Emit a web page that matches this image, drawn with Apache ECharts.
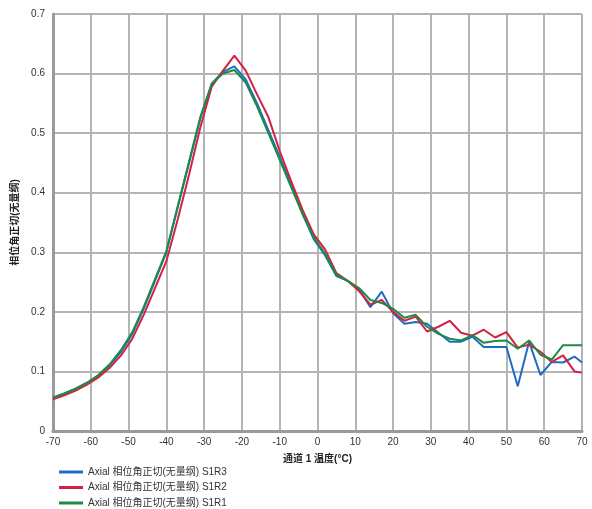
<!DOCTYPE html>
<html>
<head>
<meta charset="utf-8">
<script src="https://cdn.jsdelivr.net/npm/echarts@6/dist/echarts.min.js"></script>
<style>
html,body{margin:0;padding:0;background:#fff;}
#chart{width:592px;height:509px;}
</style>
</head>
<body>
<div id="chart"></div>
<script>
var temps = [-70,-67,-64,-61,-58,-55,-52,-49,-46,-43,-40,-37,-34,-31,-28,-25,-22,-19,-16,-13,-10,-7,-4,-1,2,5,8,11,14,17,20,23,26,29,32,35,38,41,44,47,50,53,56,59,62,65,68,70];
var s1r3 = [0.056,0.063,0.071,0.081,0.093,0.110,0.133,0.163,0.205,0.252,0.300,0.375,0.450,0.525,0.583,0.603,0.612,0.590,0.550,0.505,0.460,0.413,0.365,0.322,0.295,0.260,0.252,0.238,0.208,0.234,0.198,0.180,0.183,0.180,0.165,0.150,0.150,0.158,0.141,0.141,0.141,0.075,0.150,0.094,0.116,0.115,0.125,0.115];
var s1r2 = [0.053,0.060,0.068,0.078,0.090,0.106,0.127,0.155,0.195,0.240,0.285,0.355,0.430,0.510,0.578,0.605,0.630,0.605,0.565,0.527,0.470,0.420,0.372,0.330,0.305,0.265,0.252,0.235,0.212,0.220,0.200,0.185,0.192,0.167,0.175,0.185,0.165,0.160,0.170,0.157,0.166,0.140,0.145,0.133,0.116,0.127,0.100,0.098];
var s1r1 = [0.056,0.063,0.071,0.081,0.094,0.112,0.136,0.166,0.208,0.255,0.302,0.377,0.452,0.527,0.583,0.600,0.606,0.585,0.545,0.500,0.455,0.410,0.365,0.325,0.298,0.262,0.252,0.240,0.220,0.215,0.205,0.190,0.195,0.175,0.163,0.155,0.152,0.161,0.148,0.151,0.152,0.138,0.152,0.128,0.120,0.144,0.144,0.144];
var seriesNames = ['Axial 相位角正切(无量纲) S1R3','Axial 相位角正切(无量纲) S1R2','Axial 相位角正切(无量纲) S1R1'];
var seriesColors = ['#1f6cc4','#d3213f','#1e8b45'];
var xName = '通道 1 温度(°C)';
var yName = '相位角正切(无量纲)';

function pairs(vals){ return temps.map(function(t,i){ return [t, vals[i]]; }); }
var FONT = '"Liberation Sans", "Noto Sans CJK SC", sans-serif';
var chart = echarts.init(document.getElementById('chart'), null, {renderer:'canvas'});
var allVals = [s1r3, s1r2, s1r1];
var legends = seriesNames.map(function(n,i){
  return {
    orient:'vertical', left:59, top:467 + i*15.5, padding:0,
    itemWidth:24, itemHeight:3, icon:'rect',
    textStyle:{fontSize:10,color:'#333',fontFamily:FONT},
    data:[n]
  };
});
chart.setOption({
  animation:false,
  backgroundColor:'#fff',
  textStyle:{fontFamily:FONT},
  grid:{left:53,right:10,top:14,bottom:78,containLabel:false},
  legend:legends,
  xAxis:{
    type:'value', min:-70, max:70, interval:10,
    name:xName, nameLocation:'middle', nameGap:23,
    nameTextStyle:{fontSize:10,color:'#222',fontWeight:'bold',fontFamily:FONT},
    axisLine:{show:true,onZero:false,lineStyle:{color:'#9a9a9a',width:3}},
    axisTick:{show:false},
    axisLabel:{fontSize:10,color:'#333',margin:6,fontFamily:FONT},
    splitLine:{show:true,lineStyle:{color:'#b4b4b4',width:2}}
  },
  yAxis:{
    type:'value', min:0, max:0.7, interval:0.1,
    name:yName, nameLocation:'middle', nameGap:31, nameRotate:90,
    nameTextStyle:{fontSize:10,color:'#222',fontWeight:'bold',fontFamily:FONT},
    axisLine:{show:true,onZero:false,lineStyle:{color:'#9a9a9a',width:3}},
    axisTick:{show:false},
    axisLabel:{fontSize:10,color:'#333',margin:8,fontFamily:FONT,
      formatter:function(v){ return String(Math.round(v*10)/10); }},
    splitLine:{show:true,lineStyle:{color:'#b4b4b4',width:2}}
  },
  series: seriesNames.map(function(n,i){
    return {
      name:n, type:'line', data:pairs(allVals[i]),
      showSymbol:false, symbol:'none', smooth:false,
      lineStyle:{width:2,color:seriesColors[i]},
      itemStyle:{color:seriesColors[i]},
      z:2+i
    };
  })
});
</script>
</body>
</html>
